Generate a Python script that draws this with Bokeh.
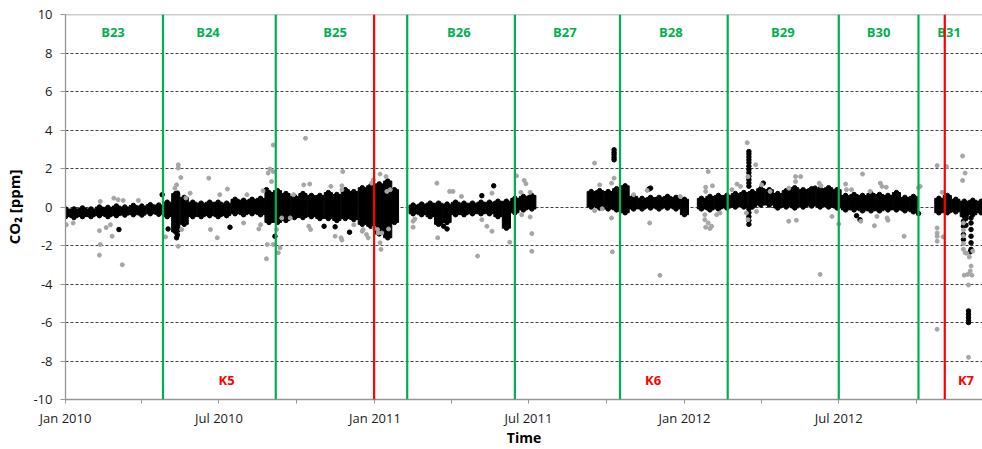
import pandas as pd
from bokeh.plotting import figure
from bokeh.models import FixedTicker, DatetimeTickFormatter, Span, Range1d, ColumnDataSource
from bokeh.embed import file_html
from bokeh.resources import INLINE
from bokeh.core.properties import value

# ---------------- data ----------------
START = "2010-01-01"          # day offsets below are counted from this date
END_DAY = 1081.5              # right edge of the visible time window

# dense black band of measurements: day offset, lower and upper envelope [ppm]
band_day = [0, 10, 20, 30, 40, 50, 60, 70, 80, 90, 100, 110,
            120, 130, 140, 150, 160, 170, 180, 190,
            200, 210, 220, 230,
            240, 250, 260, 270, 280, 290, 300, 310, 320, 330, 340, 350, 360, 370, 380, 388,
            410, 420, 430, 440, 450, 460, 470, 480, 490, 500, 510, 520, 530, 540, 550,
            620, 630, 640, 650, 660, 670, 680, 690, 700, 710, 720, 730,
            750, 760, 770, 780, 790, 800, 810, 820, 830,
            840, 850, 860, 870, 880, 890, 900, 910, 920, 930, 940, 950, 960, 970, 980, 990, 1000,
            1030, 1040, 1050, 1060, 1070, 1080]
band_lo = [-0.5, -0.55, -0.5, -0.5, -0.45, -0.5, -0.45, -0.42, -0.4, -0.42, -0.35, -0.38,
           -0.5, -1.3, -0.9, -0.5, -0.5, -0.45, -0.5, -0.45,
           -0.35, -0.4, -0.35, -0.4,
           -0.8, -0.8, -0.7, -0.55, -0.55, -0.5, -0.6, -0.6, -0.7, -0.6, -0.65, -0.9, -1.0, -1.4, -1.6, -0.8,
           -0.35, -0.4, -0.5, -0.9, -0.8, -0.4, -0.4, -0.35, -0.35, -0.35, -0.5, -1.1, -0.3, -0.15, -0.1,
           0.0, -0.05, -0.1, -0.15, -0.3, -0.1, -0.1, -0.05, -0.1, -0.05, -0.1, -0.4,
           -0.1, -0.15, -0.1, -0.05, 0.0, 0.0, 0.0, 0.1, 0.1,
           -0.05, 0.0, -0.05, 0.0, 0.05, 0.0, 0.0, -0.05, -0.15, -0.15, -0.2, -0.2, -0.2, -0.15, -0.15, -0.2, -0.25,
           -0.3, -0.3, -0.25, -0.5, -0.4, -0.3]
band_hi = [-0.1, -0.1, -0.05, -0.1, 0.0, -0.02, 0.05, 0.0, 0.08, 0.05, 0.12, 0.1,
           0.25, 0.7, 0.5, 0.25, 0.2, 0.25, 0.25, 0.2,
           0.4, 0.35, 0.4, 0.45,
           0.75, 0.85, 0.7, 0.55, 0.7, 0.6, 0.6, 0.75, 0.65, 0.9, 0.8, 1.0, 1.1, 1.2, 1.35, 0.9,
           0.1, 0.15, 0.2, 0.2, 0.15, 0.25, 0.2, 0.2, 0.25, 0.25, 0.3, 0.3, 0.45, 0.55, 0.6,
           0.8, 0.85, 0.8, 0.95, 1.1, 0.55, 0.45, 0.5, 0.5, 0.55, 0.5, 0.4,
           0.45, 0.55, 0.6, 0.6, 0.7, 0.75, 0.8, 0.95, 0.9,
           0.7, 0.85, 1.0, 0.9, 0.95, 0.95, 1.0, 0.9, 0.6, 0.65, 0.6, 0.7, 0.65, 0.6, 0.75, 0.5, 0.55,
           0.45, 0.6, 0.4, 0.3, 0.35, 0.3]

# single black measurements outside the dense band
black_day = [114, 63, 121, 131, 132, 132, 194, 247, 237, 305, 318, 335, 446, 450, 505, 491,
             647, 647, 647, 647, 647, 688, 690,
             806, 806, 806, 806, 806, 806, 806, 806, 806, 806, 806, 806, 806, 806, 806, 806, 806,
             823, 884, 933, 937, 1006,
             1059, 1059, 1059, 1059, 1062, 1062, 1068, 1068, 1068, 1068, 1068, 1068, 1067,
             1065, 1065, 1065, 1065, 1065]
black_val = [0.64, -1.17, -1.14, -1.6, -1.45, 0.72, -1.05, -1.52, 0.9, -1.0, -1.03, -1.31, -1.0, -1.14, 1.1, 0.59,
             2.97, 2.83, 2.71, 2.57, 2.45, 0.93, 0.98,
             2.88, 2.75, 2.6, 2.45, 2.3, 2.12, 1.95, 1.78, 1.6, 1.42, 1.25, 1.08, -0.1, -0.3, -0.5, -0.7, -0.9,
             1.24, 0.98, -0.45, -0.66, -0.34,
             -0.74, -1.0, -1.43, -1.69, -0.6, -0.95, -0.57, -0.83, -1.17, -1.52, -1.86, -2.2, -2.33,
             -5.4, -5.57, -5.74, -5.91, -6.0]

# grey (flagged) measurements
grey_day = [1, 9, 40, 41, 40, 48, 53, 55, 57, 67, 62, 68, 41, 86, 118, 133, 133, 136, 131, 129,
            133, 137, 147, 142, 169, 171, 179, 182, 191, 210, 214, 228, 230, 233, 237, 238, 239, 241,
            245, 245, 243, 245, 249, 251, 253, 255, 265, 269, 283, 287, 288, 281, 289, 313, 318, 325,
            326, 327, 326, 326, 340, 350, 351, 355, 357, 361, 363, 371, 378, 364, 368, 369, 373, 371,
            372, 381, 379, 383, 410, 410, 412, 438, 439, 453, 457, 467, 486, 491, 497, 503, 503, 524,
            532, 541, 543, 537, 548, 550, 550, 538, 548, 624, 624, 630, 633, 644, 647, 644, 645, 670,
            686, 689, 701, 725, 755, 758, 763, 755, 754, 754, 755, 758, 760, 762, 768, 772, 786, 792,
            796, 804, 805, 814, 803, 805, 815, 821, 831, 853, 853, 861, 867, 861, 862, 890, 889, 891,
            904, 912, 920, 927, 921, 940, 938, 949, 954, 961, 963, 968, 957, 969, 970, 989, 1008,
            1028, 1028, 1028, 1028, 1028, 1035, 1034, 1039, 1058, 1061, 1058, 1059, 1059, 1059, 1059,
            1059, 1061, 1068, 1067, 1069, 1060, 1064, 1065, 1065, 1070, 1028, 1063, 1066, 1006]
grey_val = [-0.92, -0.83, -1.23, -1.95, -2.5, -1.07, -0.92, -1.52, 0.46, -3.0, 0.38, 0.34, 0.29, 0.34, -1.55, 2.19, 2.02, 1.53, 1.15, 0.98,
            -2.04, -1.17, 0.72, 0.47, 1.5, -1.17, -1.6, 0.64, 0.93, -0.83, 0.64, -1.14, -0.92, 0.84, -2.69, -1.95, 1.76, 1.97,
            3.22, 1.84, 1.32, -1.95, -1.17, -2.38, -2.12, -0.57, -0.57, 0.64, 3.57, -1.0, 1.19, 1.15, -1.17, 1.07, -1.52, -1.6,
            -1.72, 1.84, 1.1, 0.9, -0.92, -1.26, -1.17, -1.43, -1.6, 1.24, 1.41, 1.71, 1.58, -1.09, -1.17, -1.35, -1.35, -1.86,
            -2.2, -1.14, 0.81, 0.9, -0.74, -1.05, -0.62, 1.24, -1.6, 0.81, 0.81, 0.55, -2.55, -0.66, -1.0, -1.26, 0.72, -1.83,
            1.62, 1.38, 1.21, 0.76, 0.76, -1.38, -2.3, -0.4, -0.52, 2.28, -0.19, 1.15, -0.09, 1.24, 1.5, -0.57, -2.33, 0.64,
            0.86, -0.83, -3.55, 0.55, 1.03, 1.84, 1.1, 0.81, -0.4, -0.66, -1.05, -0.83, -1.12, -1.0, -0.4, -0.31, 0.9, 1.19,
            1.07, 3.34, 1.58, 2.19, -0.31, -0.66, -0.23, 1.15, 0.81, 0.98, -0.74, 1.58, 1.58, 1.32, -0.69, -3.5, 1.24, 1.1,
            -0.49, -0.88, 1.19, 0.9, 0.9, 1.71, -0.74, 0.81, -0.97, 1.24, 1.07, 1.03, -0.49, -0.57, -0.69, -1.52, 1.07,
            2.15, -1.09, -1.35, -1.78, -1.52, -1.55, 0.76, 2.1, 2.65, 1.76, 1.38, -0.83, -1.2, -1.5, -1.9,
            -2.2, -2.38, -3.07, -3.33, -3.54, -3.54, -3.5, -4.05, -7.81, -2.29, -6.35, -2.4, -2.6, 1.0]

# period boundaries
green_dates = ["2010-04-26", "2010-09-06", "2011-02-08", "2011-06-15", "2011-10-17",
               "2012-02-21", "2012-07-01", "2012-10-03"]
red_dates = ["2010-12-31", "2012-11-03"]

# period labels
b_labels = ["B23", "B24", "B25", "B26", "B27", "B28", "B29", "B30", "B31"]
b_dates = ["2010-02-26", "2010-06-18", "2010-11-15", "2011-04-10", "2011-08-13",
           "2011-12-16", "2012-04-26", "2012-08-17", "2012-11-08"]
k_labels = ["K5", "K6", "K7"]
k_dates = ["2010-07-10", "2011-11-25", "2012-11-28"]

# axis ticks
x_major_ticks = ["2010-01-01", "2010-07-01", "2011-01-01", "2011-07-01", "2012-01-01", "2012-07-01"]
x_minor_ticks = ["2010-04-01", "2010-10-01", "2011-04-01", "2011-10-01", "2012-04-01", "2012-10-01"]
y_ticks = [-10, -8, -6, -4, -2, 0, 2, 4, 6, 8, 10]

# ---------------- helpers ----------------
base = pd.Timestamp(START)
DAY_MS = 86400000.0


def days_to_dt(days):
    return [base + pd.Timedelta(days=float(d)) for d in days]


def ms(datestr):
    return pd.Timestamp(datestr).value / 1e6


GREEN = "#00B050"
RED = "#FF0000"
GREY = "#A6A6A6"
AXIS_GREY = "#969696"
FONT = "Open Sans"

p = figure(width=982, height=449, x_axis_type="datetime",
           output_backend="svg", toolbar_location=None,
           min_border_left=65, min_border_right=0, min_border_top=14, min_border_bottom=48,
           x_range=Range1d(ms(START), ms(START) + END_DAY * DAY_MS),
           y_range=Range1d(-10, 10))
p.outline_line_color = None
p.background_fill_color = "white"
p.border_fill_color = "white"

# grid
p.xgrid.grid_line_color = None
p.ygrid.grid_line_color = "#404040"
p.ygrid.grid_line_dash = "3 2"
p.ygrid.grid_line_width = 1

# x axis
xa = p.xaxis[0]
xa.ticker = FixedTicker(ticks=[ms(t) for t in x_major_ticks], minor_ticks=[ms(t) for t in x_minor_ticks])
xa.formatter = DatetimeTickFormatter(days="%b %Y", months="%b %Y", years="%b %Y")
xa.axis_line_color = AXIS_GREY
xa.axis_line_width = 1.3
xa.major_tick_line_color = AXIS_GREY
xa.minor_tick_line_color = AXIS_GREY
xa.major_tick_in = 0
xa.major_tick_out = 4
xa.minor_tick_in = 0
xa.minor_tick_out = 4
xa.major_label_standoff = 5
xa.major_label_text_font = FONT
xa.major_label_text_font_size = "13px"
xa.major_label_text_color = "#1a1a1a"
xa.axis_label = "Time"
xa.axis_label_text_font = FONT
xa.axis_label_text_font_style = "bold"
xa.axis_label_text_font_size = "14px"
xa.axis_label_text_color = "#000000"
xa.axis_label_standoff = -2

# y axis
ya = p.yaxis[0]
ya.ticker = FixedTicker(ticks=y_ticks)
ya.major_label_overrides = {t: str(t) for t in y_ticks}
ya.axis_line_color = AXIS_GREY
ya.axis_line_width = 1.3
ya.major_tick_line_color = AXIS_GREY
ya.major_tick_in = 0
ya.major_tick_out = 5
ya.minor_tick_line_color = None
ya.major_label_standoff = 8
ya.major_label_text_font = FONT
ya.major_label_text_font_size = "13px"
ya.major_label_text_color = "#1a1a1a"
ya.axis_label = "CO\u2082 [ppm]"
ya.axis_label_text_font = FONT
ya.axis_label_text_font_style = "bold"
ya.axis_label_text_font_size = "15px"
ya.axis_label_text_color = "#000000"
ya.axis_label_standoff = 6

# top frame line
p.add_layout(Span(location=10, dimension="width", line_color=AXIS_GREY, line_width=1.3))

# data
band_src = ColumnDataSource(dict(x=days_to_dt(band_day), lo=band_lo, hi=band_hi))
p.vbar(x="x", width=9.6 * DAY_MS, bottom="lo", top="hi", source=band_src,
       fill_color="black", line_color="black")
p.scatter(x="x", y="hi", source=band_src, size=4.5, color="black")
p.scatter(x="x", y="lo", source=band_src, size=4.5, color="black")

p.scatter(x=days_to_dt(black_day), y=black_val, size=4.5, color="black")
p.scatter(x=days_to_dt(grey_day), y=grey_val, size=4, color=GREY)

# boundaries
for d in green_dates:
    p.add_layout(Span(location=ms(d), dimension="height", line_color=GREEN, line_width=2.2))
for d in red_dates:
    p.add_layout(Span(location=ms(d), dimension="height", line_color=RED, line_width=2.2))

# labels
p.text(x=[pd.Timestamp(d) for d in b_dates], y=[9.07] * len(b_labels), text=b_labels,
       text_color=GREEN, text_font=value(FONT), text_font_style="bold", text_font_size="13px",
       text_align="center", text_baseline="middle")
p.text(x=[pd.Timestamp(d) for d in k_dates], y=[-9.0] * len(k_labels), text=k_labels,
       text_color=RED, text_font=value(FONT), text_font_style="bold", text_font_size="13px",
       text_align="center", text_baseline="middle")

open("out.html", "w").write(file_html(p, INLINE))
